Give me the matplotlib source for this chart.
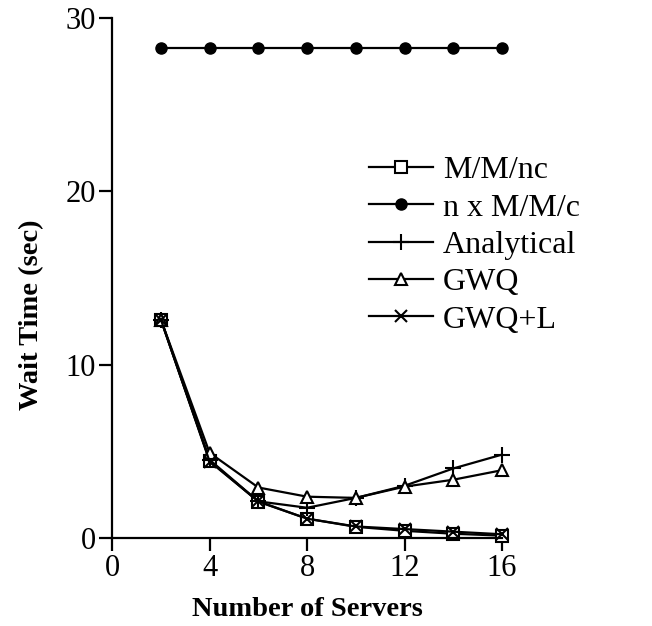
import matplotlib.pyplot as plt

plt.rcParams['font.family'] = ['Liberation Serif', 'DejaVu Serif']

servers = [2, 4, 6, 8, 10, 12, 14, 16]

mmnc = [12.6, 4.45, 2.08, 1.1, 0.63, 0.4, 0.23, 0.12]
n_mmc = [28.3, 28.3, 28.3, 28.3, 28.3, 28.3, 28.3, 28.3]
analytical = [12.6, 4.5, 2.1, 1.73, 2.3, 3.0, 4.0, 4.8]
gwq = [12.6, 4.9, 2.9, 2.37, 2.3, 2.95, 3.35, 3.9]
gwq_l = [12.6, 4.4, 2.1, 1.1, 0.65, 0.5, 0.35, 0.2]

fig = plt.figure(figsize=(6.52, 6.26), dpi=100)
ax = fig.add_axes([0.172, 0.141, 0.598, 0.83])

kw = dict(color='black', lw=1.6, clip_on=False)
ax.plot(servers, mmnc, marker='s', ms=8, mfc='white', mec='black', mew=1.5, label='M/M/nc', **kw)
ax.plot(servers, n_mmc, marker='o', ms=8, mfc='black', mec='black', label='n x M/M/c', **kw)
ax.plot(servers, analytical, marker='+', ms=11, mew=1.5, label='Analytical', **kw)
ax.plot(servers, gwq, marker='^', ms=9, mfc='white', mec='black', mew=1.5, label='GWQ', **kw)
ax.plot(servers, gwq_l, marker='x', ms=8, mew=1.5, label='GWQ+L', **kw)

ax.set_xlim(0, 16)
ax.set_ylim(0, 30)
ax.set_xticks([0, 4, 8, 12, 16])
ax.set_yticks([0, 10, 20, 30])
ax.spines['top'].set_visible(False)
ax.spines['right'].set_visible(False)
ax.spines['left'].set_linewidth(1.6)
ax.spines['bottom'].set_linewidth(1.6)
ax.tick_params(direction='out', length=9.5, width=1.6, labelsize=22, pad=2)

ax.set_xlabel('Number of Servers', fontsize=20.5, fontweight='bold', labelpad=10)
ax.set_ylabel('Wait Time (sec)', fontsize=20.5, fontweight='bold')
ax.yaxis.set_label_coords(-0.175, 0.43)

leg = ax.legend(loc='upper left', bbox_to_anchor=(0.66, 0.735), frameon=False, fontsize=23,
                handlelength=2.0, handletextpad=0.3, labelspacing=0.25, borderaxespad=0,
                borderpad=0)

fig.savefig('out.png', dpi=100)
